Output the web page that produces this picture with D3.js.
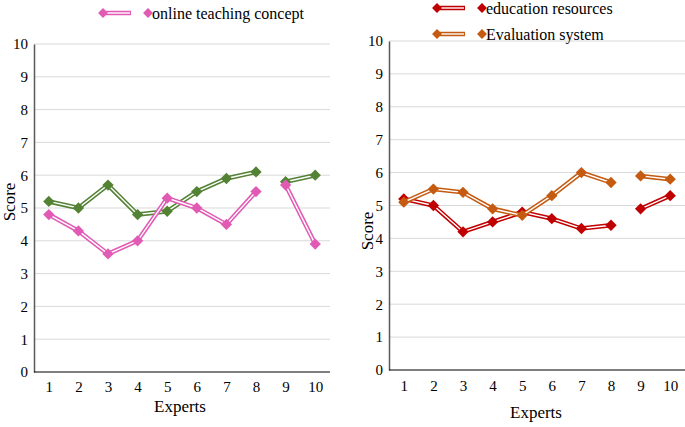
<!DOCTYPE html>
<html><head><meta charset="utf-8">
<script src="https://cdn.jsdelivr.net/npm/d3@7"></script>
<style>body{margin:0;background:#fff}svg{display:block}text{font-family:"Liberation Serif","Times New Roman",serif;fill:#000}</style>
</head><body><svg id="c" width="685" height="427"></svg>
<script>
const experts = [1,2,3,4,5,6,7,8,9,10];
const yTicks = [0,1,2,3,4,5,6,7,8,9,10];
const greenSeries = [5.2,5.0,5.7,4.8,4.9,5.5,5.9,6.1,5.8,6.0];
const onlineTeaching = [4.8,4.3,3.6,4.0,5.3,5.0,4.5,5.5,5.7,3.9];
const educationResources = [5.2,5.0,4.2,4.5,4.8,4.6,4.3,4.4,4.9,5.3];
const evaluationSystem = [5.1,5.5,5.4,4.9,4.7,5.3,6.0,5.7,5.9,5.8];
const segments = [[1,8],[9,10]];

const svg = d3.select("#c");
const panels = [
  {x0:34,x1:330,y0:372,y1:44,scoreX:9,scoreY:202,expX:180,expY:406,tickPad:9,
   series:[{vals:greenSeries,color:"#548235"},{vals:onlineTeaching,color:"#E15BB5"}],
   legend:[{name:"online teaching concept",color:"#E15BB5",x:103,y:13}]},
  {x0:389,x1:685,y0:370,y1:41,scoreX:367,scoreY:231,expX:536,expY:412,tickPad:10,
   series:[{vals:educationResources,color:"#C00000"},{vals:evaluationSystem,color:"#C55A11"}],
   legend:[{name:"education resources",color:"#C00000",x:437,y:8},{name:"Evaluation system",color:"#C55A11",x:437,y:34}]}
];

function diamond(g,x,y,color,s){
  g.append("rect").attr("x",-s/2).attr("y",-s/2).attr("width",s).attr("height",s)
   .attr("transform",`translate(${x},${y}) rotate(45)`).attr("fill",color);
}

panels.forEach(p=>{
  const x = d3.scalePoint().domain(experts).range([p.x0,p.x1]).padding(0.5);
  const y = d3.scaleLinear().domain([0,10]).range([p.y0,p.y1]);
  const g = svg.append("g");
  g.selectAll(".grid").data(yTicks.filter(t=>t>0)).join("line")
    .attr("x1",p.x0).attr("x2",p.x1).attr("y1",d=>y(d)).attr("y2",d=>y(d))
    .attr("stroke","#d9d9d9").attr("stroke-width",1);
  const ya = g.append("g").attr("transform",`translate(${p.x0},0)`)
    .call(d3.axisLeft(y).tickValues(yTicks).tickSize(0).tickPadding(6));
  ya.attr("font-family",null);
  ya.select(".domain").attr("stroke","#595959").attr("stroke-width",1.5);
  ya.selectAll("text").style("font-size","15px").style("font-family","Liberation Serif");
  const xa = g.append("g").attr("transform",`translate(0,${p.y0})`)
    .call(d3.axisBottom(x).tickSize(0).tickPadding(p.tickPad));
  xa.attr("font-family",null);
  xa.select(".domain").attr("stroke","#000").attr("stroke-width",1.2).attr("d",`M${p.x0},0H${p.x1}`);
  xa.selectAll("text").style("font-size","15px").style("font-family","Liberation Serif");
  g.append("text").attr("transform",`translate(${p.scoreX},${p.scoreY}) rotate(-90)`)
    .attr("text-anchor","middle").attr("dominant-baseline","central").style("font-size","17px").text("Score");
  g.append("text").attr("x",p.expX).attr("y",p.expY).attr("text-anchor","middle")
    .attr("dominant-baseline","central").style("font-size","17px").text("Experts");
  p.series.forEach(s=>{
    const pts = experts.map((e,i)=>({e,v:s.vals[i]}));
    const line = d3.line().x(d=>x(d.e)).y(d=>y(d.v));
    segments.forEach(([a,b])=>{
      const seg = pts.filter(d=>d.e>=a&&d.e<=b);
      g.append("path").attr("d",line(seg)).attr("fill","none").attr("stroke",s.color).attr("stroke-width",4.5);
      g.append("path").attr("d",line(seg)).attr("fill","none").attr("stroke","#fff").attr("stroke-width",1.4);
    });
    pts.forEach(d=>diamond(g,x(d.e),y(d.v),s.color,8));
  });
  p.legend.forEach(l=>{
    g.append("line").attr("x1",l.x).attr("x2",l.x+28).attr("y1",l.y).attr("y2",l.y).attr("stroke",l.color).attr("stroke-width",4.5);
    g.append("line").attr("x1",l.x+4).attr("x2",l.x+27).attr("y1",l.y).attr("y2",l.y).attr("stroke","#fff").attr("stroke-width",1.4);
    diamond(g,l.x,l.y,l.color,7);
    diamond(g,l.x+45,l.y,l.color,7);
    g.append("text").attr("x",l.x+49).attr("y",l.y).attr("dominant-baseline","central").style("font-size","16px").text(l.name);
  });
});
</script></body></html>
